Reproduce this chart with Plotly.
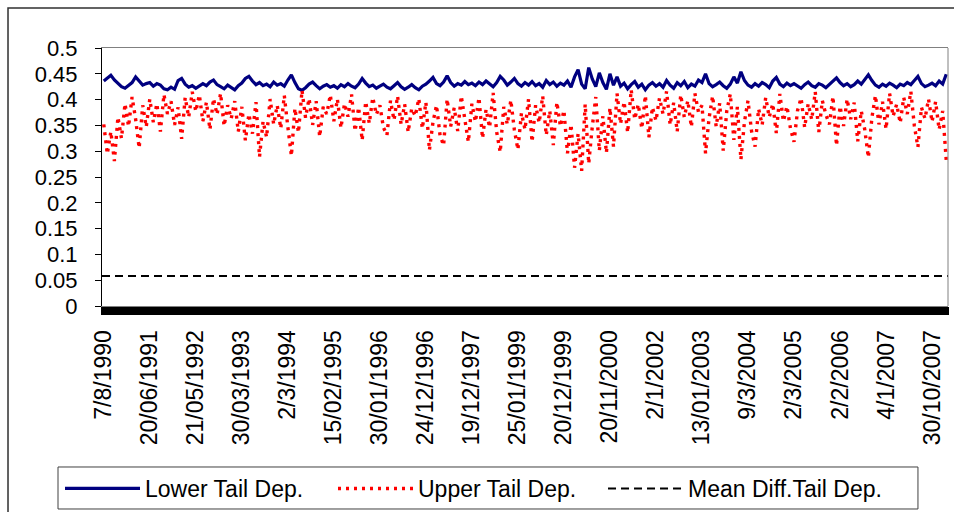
import plotly.graph_objects as go

# ---- data (one value per ~3.5 px of plot width) ----
tick_labels = ["7/8/1990", "20/06/1991", "21/05/1992", "30/03/1993", "2/3/1994",
               "15/02/1995", "30/01/1996", "24/12/1996", "19/12/1997", "25/01/1999",
               "20/12/1999", "20/11/2000", "2/1/2002", "13/01/2003", "9/3/2004",
               "2/3/2005", "2/2/2006", "4/1/2007", "30/10/2007"]
label_step = 13  # observations between labelled dates

lower_tail = [
    0.436, 0.441, 0.447, 0.438, 0.432, 0.425, 0.422, 0.428, 0.433, 0.444, 0.437, 0.428, 0.431,
    0.433, 0.426, 0.431, 0.428, 0.421, 0.419, 0.424, 0.420, 0.437, 0.441, 0.430, 0.424, 0.427,
    0.422, 0.426, 0.431, 0.427, 0.434, 0.438, 0.429, 0.425, 0.421, 0.428, 0.424, 0.419, 0.427,
    0.432, 0.441, 0.445, 0.436, 0.429, 0.433, 0.427, 0.430, 0.425, 0.434, 0.428, 0.431, 0.426,
    0.438, 0.448, 0.433, 0.421, 0.418, 0.423, 0.430, 0.434, 0.427, 0.421, 0.426, 0.429, 0.424,
    0.427, 0.422, 0.429, 0.425, 0.431, 0.426, 0.423, 0.430, 0.441, 0.432, 0.425, 0.428, 0.422,
    0.426, 0.430, 0.424, 0.421, 0.427, 0.433, 0.425, 0.420, 0.424, 0.429, 0.423, 0.419, 0.426,
    0.430, 0.436, 0.443, 0.431, 0.427, 0.434, 0.446, 0.433, 0.426, 0.431, 0.428, 0.435, 0.429,
    0.432, 0.427, 0.434, 0.429, 0.436, 0.430, 0.425, 0.433, 0.445, 0.438, 0.428, 0.434, 0.441,
    0.431, 0.426, 0.433, 0.428, 0.435, 0.427, 0.431, 0.424, 0.437, 0.429, 0.434, 0.426, 0.432,
    0.428, 0.436, 0.424, 0.444, 0.458, 0.430, 0.421, 0.462, 0.440, 0.425, 0.452, 0.433, 0.420,
    0.450, 0.428, 0.444, 0.426, 0.432, 0.421, 0.429, 0.435, 0.424, 0.430, 0.419, 0.428, 0.433,
    0.426, 0.431, 0.424, 0.437, 0.428, 0.422, 0.433, 0.427, 0.435, 0.423, 0.430, 0.426, 0.438,
    0.433, 0.450, 0.431, 0.425, 0.429, 0.434, 0.427, 0.422, 0.430, 0.444, 0.432, 0.454, 0.437,
    0.428, 0.424, 0.431, 0.426, 0.433, 0.429, 0.423, 0.436, 0.443, 0.430, 0.425, 0.432, 0.427,
    0.431, 0.426, 0.422, 0.429, 0.434, 0.427, 0.424, 0.431, 0.428, 0.423, 0.430, 0.435, 0.442,
    0.433, 0.427, 0.431, 0.425, 0.429, 0.436, 0.430, 0.439, 0.448, 0.437, 0.428, 0.424, 0.430,
    0.426, 0.432, 0.428, 0.423, 0.430, 0.427, 0.433, 0.429, 0.437, 0.445, 0.431, 0.425, 0.428,
    0.432, 0.427, 0.436, 0.430, 0.449,
]

upper_tail = [
    0.352, 0.295, 0.338, 0.281, 0.366, 0.325, 0.392, 0.348, 0.405, 0.362, 0.306, 0.389, 0.347,
    0.401, 0.356, 0.392, 0.338, 0.410, 0.372, 0.397, 0.351, 0.385, 0.324, 0.404, 0.366, 0.415,
    0.377, 0.409, 0.358, 0.395, 0.342, 0.402, 0.371, 0.412, 0.349, 0.389, 0.363, 0.397, 0.338,
    0.386, 0.321, 0.372, 0.334, 0.395, 0.289, 0.358, 0.327, 0.401, 0.352, 0.389, 0.344, 0.408,
    0.347, 0.291, 0.383, 0.336, 0.418, 0.365, 0.402, 0.351, 0.397, 0.328, 0.386, 0.372, 0.409,
    0.358, 0.401, 0.345, 0.392, 0.367, 0.410, 0.339, 0.385, 0.321, 0.396, 0.354, 0.404, 0.371,
    0.389, 0.346, 0.331, 0.398, 0.360, 0.407, 0.352, 0.391, 0.337, 0.383, 0.368, 0.402, 0.344,
    0.395, 0.302, 0.356, 0.389, 0.331, 0.311, 0.401, 0.348, 0.384, 0.339, 0.407, 0.362, 0.318,
    0.392, 0.357, 0.404, 0.325, 0.381, 0.346, 0.413, 0.337, 0.298, 0.386, 0.352, 0.399, 0.341,
    0.303, 0.374, 0.342, 0.401, 0.318, 0.389, 0.355, 0.407, 0.331, 0.378, 0.312, 0.395, 0.348,
    0.379, 0.296, 0.352, 0.268, 0.334, 0.262, 0.391, 0.276, 0.347, 0.405, 0.301, 0.368, 0.297,
    0.384, 0.309, 0.412, 0.353, 0.396, 0.336, 0.419, 0.362, 0.391, 0.344, 0.408, 0.327, 0.385,
    0.359, 0.403, 0.372, 0.416, 0.351, 0.394, 0.338, 0.409, 0.366, 0.398, 0.347, 0.412, 0.376,
    0.389, 0.296, 0.364, 0.407, 0.348, 0.393, 0.301, 0.378, 0.411, 0.322, 0.386, 0.284, 0.357,
    0.398, 0.339, 0.309, 0.382, 0.351, 0.404, 0.366, 0.392, 0.335, 0.411, 0.358, 0.387, 0.344,
    0.318, 0.379, 0.403, 0.346, 0.392, 0.361, 0.415, 0.337, 0.398, 0.371, 0.352, 0.406, 0.311,
    0.387, 0.349, 0.401, 0.362, 0.394, 0.319, 0.378, 0.341, 0.288, 0.365, 0.408, 0.352, 0.396,
    0.343, 0.412, 0.368, 0.391, 0.355, 0.404, 0.372, 0.416, 0.349, 0.308, 0.385, 0.363, 0.401,
    0.357, 0.396, 0.342, 0.378, 0.283,
]

mean_diff_tail = 0.058

# ---- figure ----
n = len(lower_tail)
idx = list(range(n))
FONT = "Arial, Liberation Sans, sans-serif"

fig = go.Figure()
fig.add_trace(go.Scatter(x=idx, y=lower_tail, mode="lines", name="Lower Tail Dep.",
                         line=dict(color="#000080", width=3.2), legend="legend"))
fig.add_trace(go.Scatter(x=idx, y=upper_tail, mode="lines", name="Upper Tail Dep.",
                         line=dict(color="#FF0000", width=3.4, dash="3px,5px"), legend="legend"))
fig.add_trace(go.Scatter(x=[idx[0] - 0.5, idx[-1] + 0.5], y=[mean_diff_tail, mean_diff_tail],
                         mode="lines", name="Mean Diff.Tail Dep.",
                         line=dict(color="#000000", width=2, dash="8px,5px"), legend="legend2"))

tickvals = [i * label_step for i in range(len(tick_labels))]

legend_common = dict(orientation="h", xref="container", yref="container",
                     y=0.0879, xanchor="left", yanchor="top",
                     bgcolor="rgba(0,0,0,0)", borderwidth=0,
                     font=dict(family=FONT, size=23, color="black"),
                     itemwidth=75, tracegroupgap=0)

fig.update_layout(
    width=954, height=512,
    margin=dict(l=102, r=6, t=48, b=206, autoexpand=False),
    paper_bgcolor="white", plot_bgcolor="white",
    font=dict(family=FONT, size=21, color="black"),
    showlegend=True,
    legend=dict(legend_common, x=0.0629, entrywidth=183),
    legend2=dict(legend_common, x=0.6321),
    xaxis=dict(range=[-0.5, n - 0.5], tickmode="array", tickvals=tickvals, ticktext=tick_labels,
               tickangle=-90, tickfont=dict(family=FONT, size=23, color="black"),
               showgrid=False, zeroline=False, automargin=False,
               showline=True, linecolor="#808080", linewidth=1, mirror=True,
               ticks="outside", ticklen=8, tickwidth=2, tickcolor="black",
               ticklabelstandoff=6,
               minor=dict(ticks="outside", ticklen=8, tickwidth=2, tickcolor="black",
                          tickmode="linear", tick0=0, dtick=0.5, showgrid=False)),
    yaxis=dict(range=[0, 0.5], tickmode="linear", tick0=0, dtick=0.05,
               tickfont=dict(family=FONT, size=22, color="black"),
               showgrid=False, zeroline=False, automargin=False,
               showline=True, linecolor="black", linewidth=1,
               ticks="outside", ticklen=6, tickwidth=1, tickcolor="black",
               ticklabelstandoff=13),
    shapes=[
        # right border of plot area
        dict(type="line", xref="paper", yref="paper", x0=1, x1=1, y0=0, y1=1,
             line=dict(color="#808080", width=1)),
        # outer chart frame
        dict(type="rect", xref="paper", yref="paper", x0=-0.1111, x1=1.02, y0=-0.84, y1=1.155,
             line=dict(color="#303030", width=1.5)),
        # legend box
        dict(type="rect", xref="paper", yref="paper", x0=-0.052, x1=0.9645, y0=-0.7868, y1=-0.624,
             line=dict(color="#404040", width=1), fillcolor="rgba(0,0,0,0)"),
    ],
)

fig.write_html("out.html")
